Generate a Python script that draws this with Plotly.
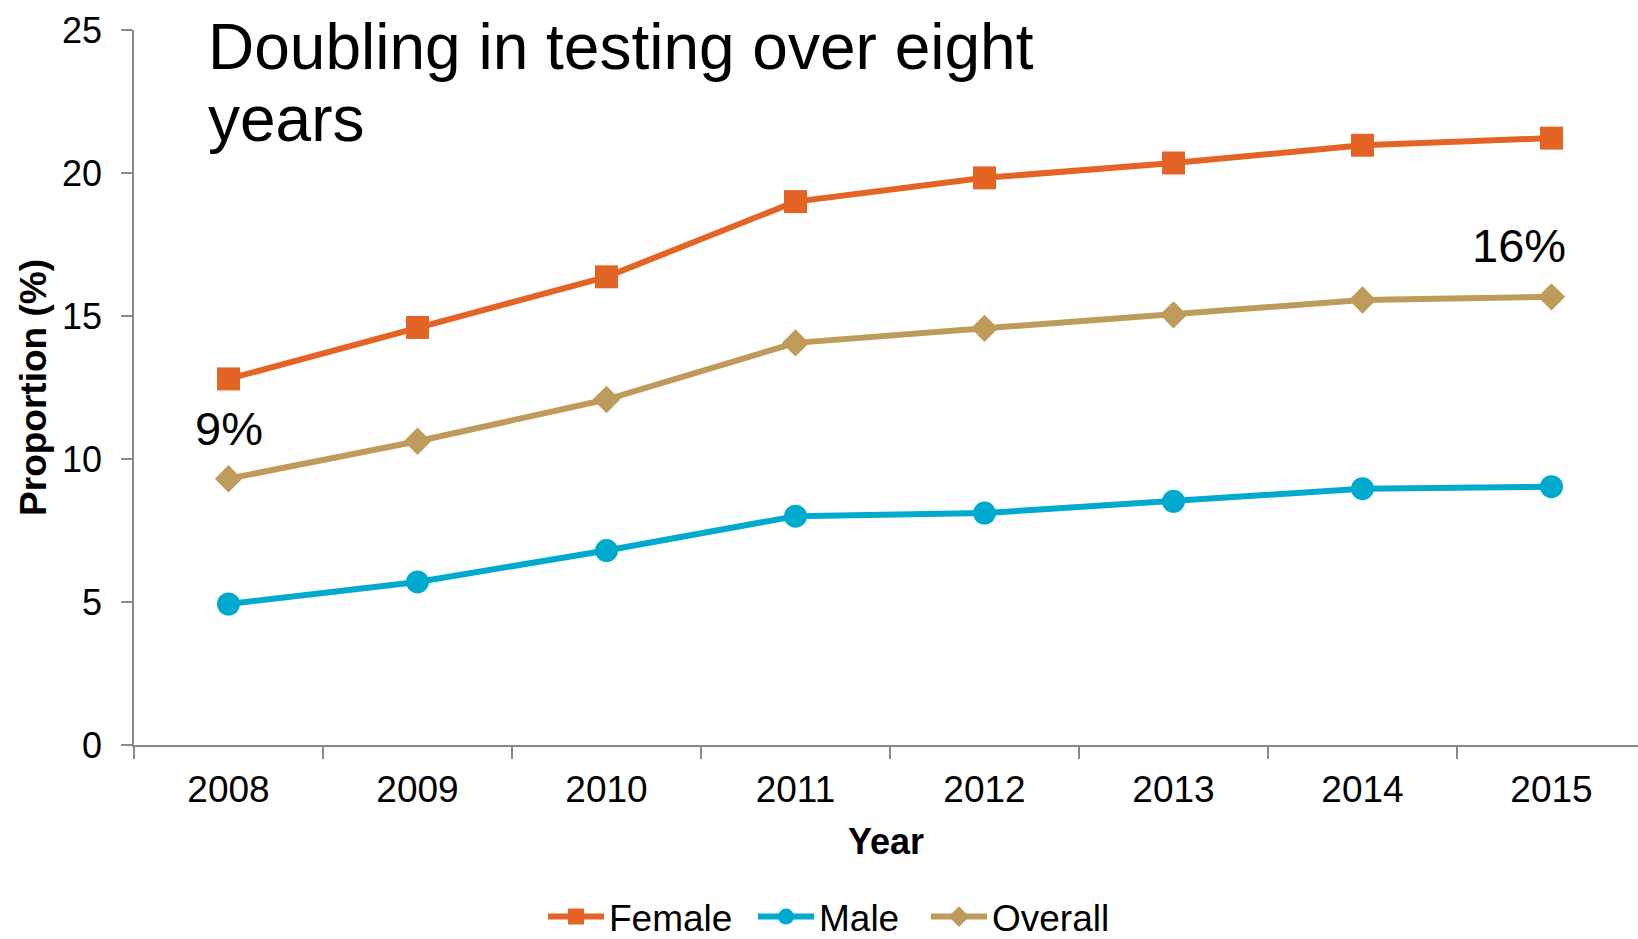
import plotly.graph_objects as go

years = ["2008", "2009", "2010", "2011", "2012", "2013", "2014", "2015"]
female = [12.8, 14.6, 16.37, 19.0, 19.83, 20.35, 20.97, 21.22]
male = [4.93, 5.7, 6.8, 8.0, 8.11, 8.52, 8.96, 9.03]
overall = [9.31, 10.62, 12.08, 14.06, 14.57, 15.04, 15.56, 15.67]

FONT = "Liberation Sans, Arial, sans-serif"
W, H = 1638, 939
ML, MR, MT, MB = 134, 0, 29.5, 194
plot_w = W - ML - MR
plot_h = H - MT - MB
cat_px = 189.0
x_end = -0.5 + plot_w / cat_px


def py(px):
    """pixel row (from top of page) -> paper y"""
    return (H - MB - px) / plot_h


fig = go.Figure()
fig.add_trace(go.Scatter(x=years, y=female, name="Female", mode="lines+markers",
                         line=dict(color="#E46425", width=6), legend="legend",
                         marker=dict(symbol="square", size=23, color="#E46425")))
fig.add_trace(go.Scatter(x=years, y=male, name="Male", mode="lines+markers",
                         line=dict(color="#00AACE", width=6), legend="legend2",
                         marker=dict(symbol="circle", size=23, color="#00AACE")))
fig.add_trace(go.Scatter(x=years, y=overall, name="Overall", mode="lines+markers",
                         line=dict(color="#BE9B5A", width=6), legend="legend3",
                         marker=dict(symbol="diamond", size=21, color="#BE9B5A")))

fig.add_annotation(x=0, y=11.08, xref="x", yref="y", text="9%", showarrow=False,
                   font=dict(family=FONT, size=47, color="black"))
fig.add_annotation(x=6.83, y=17.48, xref="x", yref="y", text="16%", showarrow=False,
                   font=dict(family=FONT, size=47, color="black"))
tx = (206 - ML) / plot_w
fig.add_annotation(x=tx, y=py(8.5), xref="paper", yref="paper",
                   xanchor="left", yanchor="top", align="left", showarrow=False,
                   text="Doubling in testing over eight",
                   font=dict(family=FONT, size=64, color="black"))
fig.add_annotation(x=tx, y=py(81), xref="paper", yref="paper",
                   xanchor="left", yanchor="top", align="left", showarrow=False,
                   text="years",
                   font=dict(family=FONT, size=64, color="black"))

leg_common = dict(orientation="h", xref="container", yref="container",
                  xanchor="left", yanchor="middle", y=1 - 917 / H,
                  font=dict(family=FONT, size=37, color="black"),
                  itemwidth=56, bgcolor="rgba(0,0,0,0)")

fig.update_layout(
    width=W, height=H, autosize=False,
    margin=dict(l=ML, r=MR, t=MT, b=MB, pad=0),
    paper_bgcolor="white", plot_bgcolor="white",
    font=dict(family=FONT, color="black"),
    showlegend=True,
    legend=dict(x=543 / W, **leg_common),
    legend2=dict(x=753 / W, **leg_common),
    legend3=dict(x=926 / W, **leg_common),
    xaxis=dict(type="category", range=[-0.5, x_end], tickson="boundaries",
               ticks="outside", ticklen=12, tickcolor="#898989", tickwidth=1.5,
               showline=True, linecolor="#898989", linewidth=1.5,
               showgrid=False, zeroline=False, ticklabelstandoff=11,
               tickfont=dict(family=FONT, size=37, color="black"),
               title=dict(text="<b>Year</b>", standoff=20,
                          font=dict(family=FONT, size=36, color="black"))),
    yaxis=dict(range=[0, 25], tickvals=[0, 5, 10, 15, 20, 25],
               ticks="outside", ticklen=11, tickcolor="#898989", tickwidth=1.5,
               showline=True, linecolor="#898989", linewidth=1.5,
               showgrid=False, zeroline=False, ticklabelstandoff=12,
               tickfont=dict(family=FONT, size=36, color="black"),
               title=dict(text="<b>Proportion (%)</b>", standoff=4,
                          font=dict(family=FONT, size=37, color="black"))),
)

fig.write_html("out.html", config={"displayModeBar": False},
               post_script="document.body.style.margin='0';")
